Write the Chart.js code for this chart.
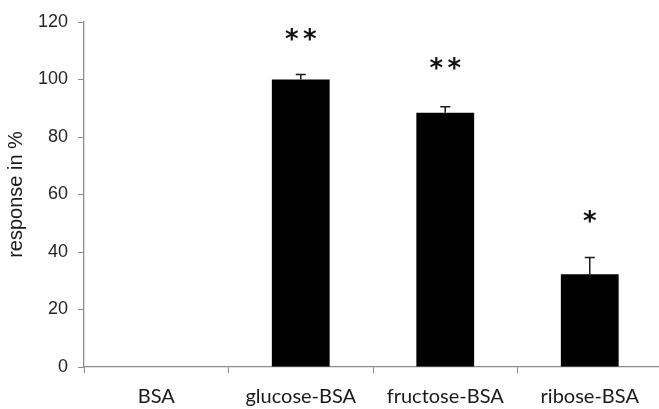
<!DOCTYPE html>
<html>
<head>
<meta charset="utf-8">
<script src="https://cdn.jsdelivr.net/npm/chart.js@4"></script>
<style>
html,body{margin:0;padding:0;background:#fff;overflow:hidden;}
#wrap{width:662px;height:409px;}
</style>
</head>
<body>
<div id="wrap"><canvas id="chart" width="662" height="409"></canvas></div>
<script>
// ================= DATA =================
const categories=["BSA","glucose-BSA","fructose-BSA","ribose-BSA"];
const response=[0,100,88.4,32.3];
const errUp=[0,1.7,2.1,5.8];
const stars=["","**","**","*"];
const starAt=[null,115.8,105.4,52.2];
const yTicks=[0,20,40,60,80,100,120];

// ================= ERROR BARS + STARS =================
const extras={
id:"extras",
afterDatasetsDraw(chart){
let ctx=chart.ctx;
let y=chart.scales.y;
let x=chart.scales.x;
let meta=chart.getDatasetMeta(0);
ctx.save();
ctx.strokeStyle="#1a1a1a";
ctx.lineWidth=1.5;
meta.data.forEach((bar,i)=>{
if(!errUp[i]) return;
let top=y.getPixelForValue(response[i]+errUp[i]);
ctx.beginPath();
ctx.moveTo(bar.x,bar.y);
ctx.lineTo(bar.x,top);
ctx.moveTo(bar.x-5,top);
ctx.lineTo(bar.x+5,top);
ctx.stroke();
});
ctx.fillStyle="#111";
ctx.font="bold 26px 'DejaVu Sans'";
ctx.textAlign="center";
ctx.textBaseline="alphabetic";
stars.forEach((s,i)=>{
if(!s) return;
let cx=x.getPixelForValue(i);
let cy=y.getPixelForValue(starAt[i]);
let m=ctx.measureText("*");
let base=cy+(m.actualBoundingBoxAscent-m.actualBoundingBoxDescent)/2;
for(let k=0;k<s.length;k++){
ctx.fillText("*",cx+(k-(s.length-1)/2)*18,base);
}
});
ctx.restore();
}
};

// ================= CHART =================
new Chart(document.getElementById("chart"),{
type:"bar",
data:{
labels:categories,
datasets:[{
data:response,
backgroundColor:"#000",
borderWidth:0,
barPercentage:0.8,
categoryPercentage:0.5
}]
},
options:{
responsive:false,
animation:false,
layout:{padding:{top:22,left:0,right:0,bottom:0}},
plugins:{legend:{display:false},tooltip:{enabled:false}},
scales:{
x:{
grid:{drawOnChartArea:false,offset:true,tickLength:6,color:"#8c8c8c"},
border:{color:"#8c8c8c",width:1.3},
ticks:{color:"#1a1a1a",font:{family:"Lato",size:20},padding:12},
afterFit(s){s.height=42;}
},
y:{
min:0,max:120,
afterBuildTicks(s){s.ticks=yTicks.map(v=>({value:v}));},
grid:{drawOnChartArea:false,tickLength:6,color:"#8c8c8c"},
border:{color:"#8c8c8c",width:1.3},
ticks:{color:"#262626",font:{family:"Liberation Sans",size:18},padding:10},
title:{display:true,text:"response in %",color:"#1a1a1a",font:{family:"Liberation Sans",size:20},padding:{top:4,bottom:4}},
afterFit(s){s.width=84;}
}
}
},
plugins:[extras]
});
</script>
</body>
</html>
